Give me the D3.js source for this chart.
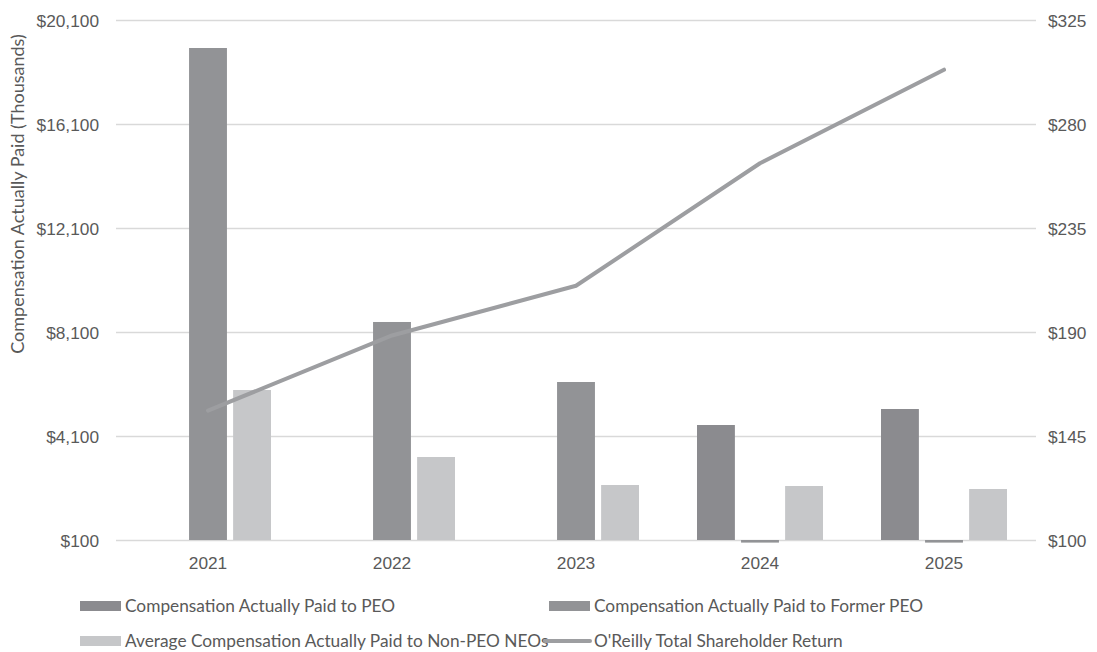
<!DOCTYPE html>
<html>
<head>
<meta charset="utf-8">
<script src="https://cdn.jsdelivr.net/npm/d3@7"></script>
<style>
  html, body { margin: 0; padding: 0; background: #fff; }
  svg { display: block; font-family: Lato, "Open Sans", sans-serif; }
</style>
</head>
<body>
<svg id="chart" width="1097" height="652"></svg>
<script>
// Fiscal years on the category axis
const years = ["2021", "2022", "2023", "2024", "2025"];

// Compensation actually paid, in thousands of dollars (null = no bar that year)
const capPEO       = [null, null, null, 4523, 5138];
const capFormerPEO = [19023, 8485, 6177, 0, 0];
const capNonPEO    = [5869, 3292, 2215, 2177, 2062];

// Value of an initial $100 investment in O'Reilly stock
const tsr = [156, 188.5, 210, 263, 303.5];

// Axis ticks
const leftTicks  = [100, 4100, 8100, 12100, 16100, 20100];
const rightTicks = [100, 145, 190, 235, 280, 325];

const legendLabels = [
  "Compensation Actually Paid to PEO",
  "Compensation Actually Paid to Former PEO",
  "Average Compensation Actually Paid to Non-PEO NEOs",
  "O'Reilly Total Shareholder Return"
];

const colors = {
  peo: "#8b8b8f",
  former: "#929396",
  nonpeo: "#c6c7c9",
  line: "#9d9ea1",
  grid: "#d9d9d9",
  text: "#595959"
};

const fontSize = "17.3px";

const svg = d3.select("#chart");
const plot = { left: 116, right: 1036, top: 20, bottom: 540 };

const x = d3.scaleBand().domain(years).range([plot.left, plot.right]).paddingInner(0).paddingOuter(0);
const yL = d3.scaleLinear().domain([100, 20100]).range([plot.bottom, plot.top]);
const yR = d3.scaleLinear().domain([100, 325]).range([plot.bottom, plot.top]);

const seriesKeys = ["peo", "former", "nonpeo"];
const xs = d3.scaleBand().domain(seriesKeys).range([29, x.bandwidth() - 29]).paddingInner(0.14).paddingOuter(0);

// Gridlines
svg.append("g")
  .selectAll("line")
  .data(leftTicks)
  .join("line")
  .attr("x1", plot.left).attr("x2", plot.right)
  .attr("y1", d => Math.round(yL(d)) + 0.5).attr("y2", d => Math.round(yL(d)) + 0.5)
  .attr("stroke", colors.grid).attr("stroke-width", 1.5);

// Left axis
const leftAxis = svg.append("g")
  .attr("transform", `translate(${plot.left - 17},0)`)
  .call(d3.axisLeft(yL).tickValues(leftTicks).tickSize(0).tickPadding(0)
    .tickFormat(d => "$" + d3.format(",")(d)));
leftAxis.select(".domain").remove();
leftAxis.selectAll("text").attr("fill", colors.text).style("font-size", fontSize).attr("dy", "0.35em");

// Right axis
const rightAxis = svg.append("g")
  .attr("transform", `translate(${plot.right + 12},0)`)
  .call(d3.axisRight(yR).tickValues(rightTicks).tickSize(0).tickPadding(0)
    .tickFormat(d => "$" + d));
rightAxis.select(".domain").remove();
rightAxis.selectAll("text").attr("fill", colors.text).style("font-size", fontSize).attr("dy", "0.35em");

// Bottom axis labels
const bottomAxis = svg.append("g")
  .attr("transform", `translate(0,${plot.bottom + 17})`)
  .call(d3.axisBottom(x).tickSize(0).tickPadding(0));
bottomAxis.select(".domain").remove();
bottomAxis.selectAll("text").attr("fill", colors.text).style("font-size", fontSize);

// Y-axis title
svg.append("text")
  .attr("transform", `translate(24,${194}) rotate(-90)`)
  .attr("text-anchor", "middle")
  .attr("fill", colors.text)
  .style("font-size", "18px")
  .text("Compensation Actually Paid (Thousands)");

// Bars
const barData = [];
years.forEach((yr, i) => {
  [["peo", capPEO], ["former", capFormerPEO], ["nonpeo", capNonPEO]].forEach(([key, arr]) => {
    if (arr[i] !== null) barData.push({ year: yr, key, value: arr[i] });
  });
});

svg.append("g")
  .selectAll("rect")
  .data(barData)
  .join("rect")
  .attr("x", d => x(d.year) + xs(d.key))
  .attr("width", xs.bandwidth())
  .attr("y", d => Math.min(yL(d.value), yL(100)))
  .attr("height", d => Math.abs(yL(100) - yL(d.value)))
  .attr("fill", d => colors[d.key]);

// TSR line
const line = d3.line()
  .x((d, i) => x(years[i]) + x.bandwidth() / 2)
  .y(d => yR(d));
svg.append("path")
  .datum(tsr)
  .attr("d", line)
  .attr("fill", "none")
  .attr("stroke", colors.line)
  .attr("stroke-width", 4)
  .attr("stroke-linecap", "round")
  .attr("stroke-linejoin", "round");

// Legend
const legend = svg.append("g").style("font-size", fontSize).attr("fill", colors.text);
const legendItems = [
  { label: legendLabels[0], type: "rect", color: colors.peo, x: 80, y: 606 },
  { label: legendLabels[1], type: "rect", color: colors.former, x: 549, y: 606 },
  { label: legendLabels[2], type: "rect", color: colors.nonpeo, x: 80, y: 641 },
  { label: legendLabels[3], type: "line", color: colors.line, x: 549, y: 641 }
];
legendItems.forEach(it => {
  const g = legend.append("g").attr("transform", `translate(${it.x},${it.y})`);
  if (it.type === "rect") {
    g.append("rect").attr("x", 0).attr("y", -5).attr("width", 41).attr("height", 10).attr("fill", it.color);
  } else {
    g.append("line").attr("x1", -4).attr("x2", 41).attr("y1", 0).attr("y2", 0)
      .attr("stroke", it.color).attr("stroke-width", 4).attr("stroke-linecap", "round");
  }
  g.append("text").attr("x", 45).attr("y", 0).attr("dy", "0.35em").attr("fill", colors.text).text(it.label);
});
</script>
</body>
</html>
